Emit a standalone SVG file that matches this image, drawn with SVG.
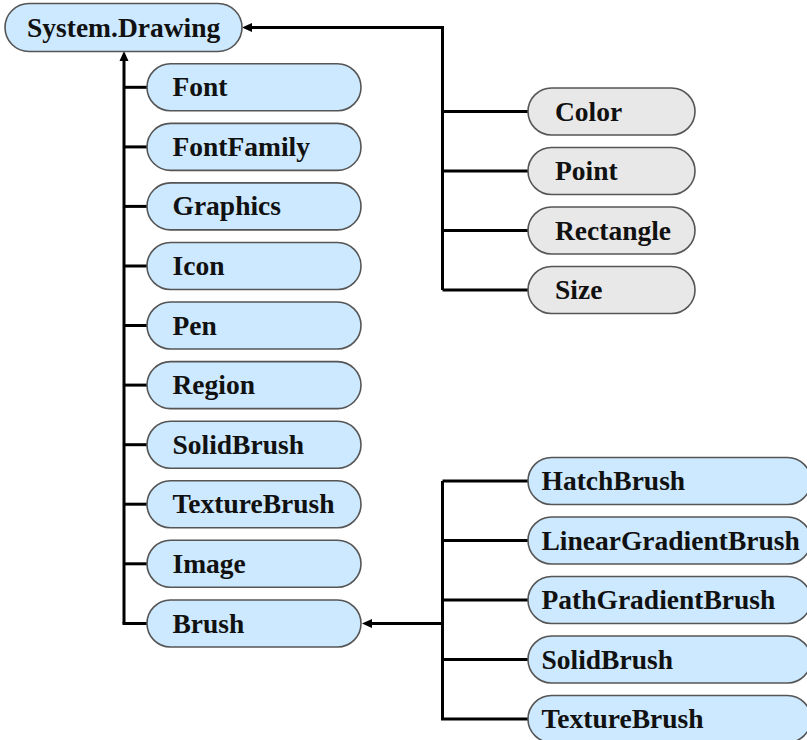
<svg xmlns="http://www.w3.org/2000/svg" width="807" height="740" viewBox="0 0 807 740">
  <style>
    .node rect { stroke: #555; stroke-width: 1.6; }
    .blue rect { fill: #cce9ff; }
    .gray rect { fill: #e8e8e8; }
    .node text { font-family: "Liberation Serif", "DejaVu Serif", serif; font-weight: bold; font-size: 27.5px; fill: #111; }
    .conn path { fill: none; stroke: #000; stroke-width: 3; stroke-linejoin: miter; stroke-linecap: butt; }
  </style>
  <defs>
    <marker id="arrow" markerUnits="userSpaceOnUse" markerWidth="10" markerHeight="10" viewBox="0 0 10 10" refX="0" refY="5" orient="auto">
      <path d="M0,0.5 L10,5 L0,9.5 z" fill="#000"/>
    </marker>
  </defs>
  <rect width="807" height="740" fill="#fff"/>

  <!-- connectors -->
  <g id="connectors" class="conn">
    <!-- value types to System.Drawing -->
    <path d="M442.5,290 V27.5 H252" marker-end="url(#arrow)"/>
    <path d="M442.5,111.5 H528"/>
    <path d="M442.5,171 H528"/>
    <path d="M442.5,230.5 H528"/>
    <path d="M442.5,290 H528"/>
    <!-- classes to System.Drawing -->
    <path d="M124,623.5 V61" marker-end="url(#arrow)"/>
    <path d="M124,87.3 H147"/>
    <path d="M124,146.9 H147"/>
    <path d="M124,206.4 H147"/>
    <path d="M124,266 H147"/>
    <path d="M124,325.5 H147"/>
    <path d="M124,385.1 H147"/>
    <path d="M124,444.7 H147"/>
    <path d="M124,504.2 H147"/>
    <path d="M124,563.8 H147"/>
    <path d="M122.5,623.5 H147"/>
    <!-- brush subclasses to Brush -->
    <path d="M442.5,481 V719"/>
    <path d="M444,623.5 H372" marker-end="url(#arrow)"/>
    <path d="M442.5,481 H528"/>
    <path d="M442.5,540.5 H528"/>
    <path d="M442.5,600 H528"/>
    <path d="M442.5,659.5 H528"/>
    <path d="M441,719 H528"/>
  </g>

  <!-- root -->
  <g id="system-drawing" class="node blue">
    <rect x="5" y="3.5" width="237" height="48" rx="24"/>
    <text x="27" y="36.5">System.Drawing</text>
  </g>

  <!-- left column -->
  <g id="font" class="node blue">
    <rect x="147" y="63.8" width="214" height="47" rx="23.5"/>
    <text x="172.5" y="96.3">Font</text>
  </g>
  <g id="fontfamily" class="node blue">
    <rect x="147" y="123.4" width="214" height="47" rx="23.5"/>
    <text x="172.5" y="155.9">FontFamily</text>
  </g>
  <g id="graphics" class="node blue">
    <rect x="147" y="182.9" width="214" height="47" rx="23.5"/>
    <text x="172.5" y="215.4">Graphics</text>
  </g>
  <g id="icon" class="node blue">
    <rect x="147" y="242.5" width="214" height="47" rx="23.5"/>
    <text x="172.5" y="275">Icon</text>
  </g>
  <g id="pen" class="node blue">
    <rect x="147" y="302" width="214" height="47" rx="23.5"/>
    <text x="172.5" y="334.5">Pen</text>
  </g>
  <g id="region" class="node blue">
    <rect x="147" y="361.6" width="214" height="47" rx="23.5"/>
    <text x="172.5" y="394.1">Region</text>
  </g>
  <g id="solidbrush-1" class="node blue">
    <rect x="147" y="421.2" width="214" height="47" rx="23.5"/>
    <text x="172.5" y="453.7">SolidBrush</text>
  </g>
  <g id="texturebrush-1" class="node blue">
    <rect x="147" y="480.7" width="214" height="47" rx="23.5"/>
    <text x="172.5" y="513.2">TextureBrush</text>
  </g>
  <g id="image" class="node blue">
    <rect x="147" y="540.3" width="214" height="47" rx="23.5"/>
    <text x="172.5" y="572.8">Image</text>
  </g>
  <g id="brush" class="node blue">
    <rect x="147" y="600" width="214" height="47" rx="23.5"/>
    <text x="172.5" y="632.5">Brush</text>
  </g>

  <!-- value types -->
  <g id="color" class="node gray">
    <rect x="528" y="88" width="167" height="47" rx="23.5"/>
    <text x="555" y="120.5">Color</text>
  </g>
  <g id="point" class="node gray">
    <rect x="528" y="147.5" width="167" height="47" rx="23.5"/>
    <text x="555" y="180">Point</text>
  </g>
  <g id="rectangle" class="node gray">
    <rect x="528" y="207" width="167" height="47" rx="23.5"/>
    <text x="555" y="239.5">Rectangle</text>
  </g>
  <g id="size" class="node gray">
    <rect x="528" y="266.5" width="167" height="47" rx="23.5"/>
    <text x="555" y="299">Size</text>
  </g>

  <!-- brush subclasses -->
  <g id="hatchbrush" class="node blue">
    <rect x="528" y="457.5" width="283" height="47" rx="23.5"/>
    <text x="541.5" y="490">HatchBrush</text>
  </g>
  <g id="lineargradientbrush" class="node blue">
    <rect x="528" y="517" width="283" height="47" rx="23.5"/>
    <text x="541.5" y="549.5">LinearGradientBrush</text>
  </g>
  <g id="pathgradientbrush" class="node blue">
    <rect x="528" y="576.5" width="283" height="47" rx="23.5"/>
    <text x="541.5" y="609">PathGradientBrush</text>
  </g>
  <g id="solidbrush-2" class="node blue">
    <rect x="528" y="636" width="283" height="47" rx="23.5"/>
    <text x="541.5" y="668.5">SolidBrush</text>
  </g>
  <g id="texturebrush-2" class="node blue">
    <rect x="528" y="695.5" width="283" height="47" rx="23.5"/>
    <text x="541.5" y="728">TextureBrush</text>
  </g>
</svg>
